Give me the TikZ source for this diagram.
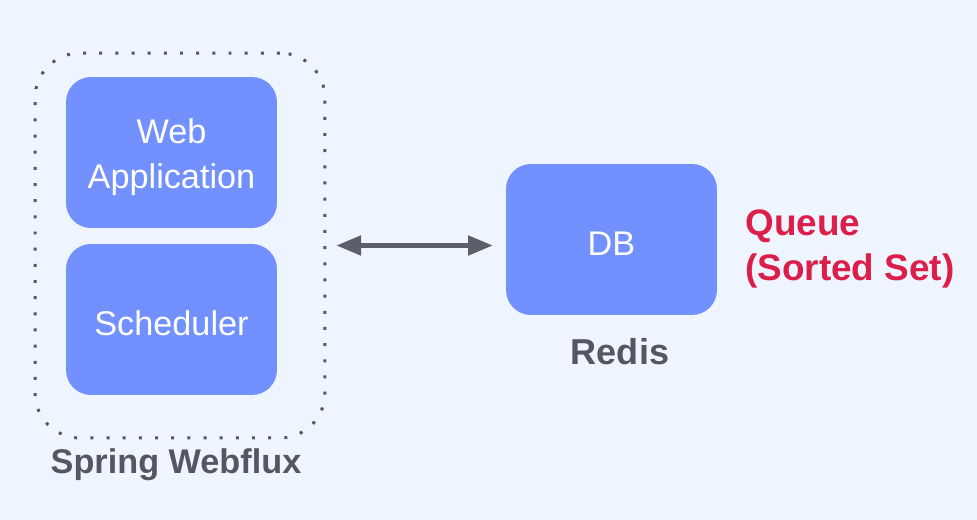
\documentclass[tikz,border=0pt]{standalone}
\usepackage{fontspec}
\setmainfont{Liberation Sans}
\usetikzlibrary{arrows.meta}
\definecolor{bgblue}{RGB}{239,245,255}
\definecolor{boxblue}{RGB}{114,145,255}
\definecolor{darkgrey}{RGB}{82,87,97}
\definecolor{queuered}{RGB}{220,30,75}
\tikzset{
	box/.style={fill=boxblue, rounded corners=0.5cm, minimum width=4.22cm, minimum height=3.02cm, text=white, align=center, text height=18pt, font=\fontsize{19.5}{26}\selectfont},
	wrapper/.style={draw=darkgrey, line width=1.7pt, dash pattern=on 1.7pt off 7.5pt, rounded corners=0.9cm, minimum width=5.8cm, minimum height=7.7cm},
	link/.style={draw=darkgrey!95, line width=2.3pt, {Triangle[length=14pt,width=11pt]}-{Triangle[length=14pt,width=11pt]}},
	caption/.style={text=darkgrey, font=\fontsize{19.5}{26}\selectfont\bfseries}
}

\begin{document}
\begin{tikzpicture}[x=0.02cm, y=-0.02cm]
			%%%%% START %%%%%
			
			\fill[bgblue] (0, 0) rectangle (977, 520);
			\useasboundingbox (0, 0) rectangle (977, 520);
			
			\node[wrapper] (wrap) at (180, 245.5) {};
			\node[box, text height=45.5pt] (web) at (171.5, 152.5) {Web\\Application};
			\node[box] (sched) at (171.5, 319.5) {Scheduler};
			\node[caption] (spring) at (176, 465) {Spring Webflux};
			
			\node[box] (db) at (611.5, 239.5) {DB};
			\node[caption, font=\fontsize{20.5}{26}\selectfont\bfseries] (redis) at (620, 352) {Redis};
			\node[text=queuered, align=left, anchor=west, inner sep=0pt, font=\fontsize{21}{26}\selectfont\bfseries] (queue) at (745, 249) {Queue\\(Sorted Set)};
			
			\draw[link, shorten <=0.2cm, shorten >=0.26cm] (wrap.east) -- (wrap.east -| db.west);
			
			%%%%% END %%%%%
		\end{tikzpicture}
\end{document}
